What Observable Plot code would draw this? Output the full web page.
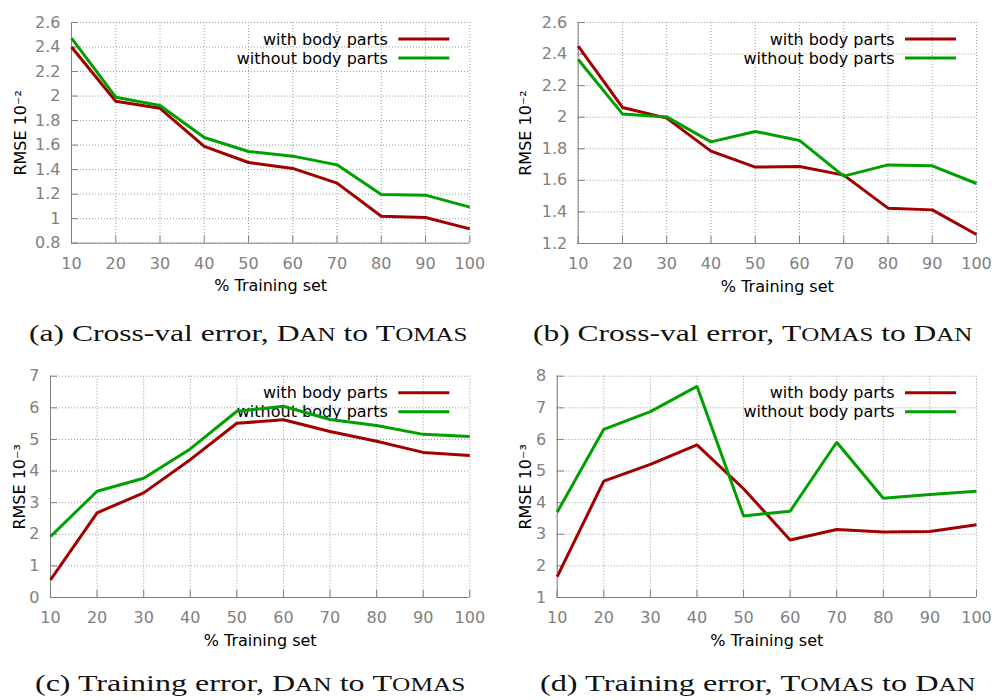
<!DOCTYPE html>
<html><head><meta charset="utf-8">
<script src="https://cdn.jsdelivr.net/npm/d3@7"></script>
<script src="https://cdn.jsdelivr.net/npm/@observablehq/plot@0.6"></script>
<style>
body{margin:0;background:#fff;}
#root{position:relative;width:996px;height:700px;overflow:hidden;background:#fff;}
#root svg{position:absolute;}
</style></head><body><div id="root"></div>
<script>
// ---- data ----
const xPercent = [10, 20, 30, 40, 50, 60, 70, 80, 90, 100];
const seriesNames = ["with body parts", "without body parts"];
const seriesColors = ["#a00000", "#00a000"];

const aWith    = [2.40, 1.958, 1.90, 1.59, 1.458, 1.41, 1.29, 1.02, 1.01, 0.917];
const aWithout = [2.472, 1.991, 1.923, 1.662, 1.548, 1.51, 1.439, 1.197, 1.192, 1.094];
const bWith    = [2.45, 2.062, 1.994, 1.785, 1.684, 1.688, 1.633, 1.424, 1.413, 1.257];
const bWithout = [2.366, 2.021, 2.002, 1.844, 1.91, 1.853, 1.627, 1.698, 1.692, 1.58];
const cWith    = [0.56, 2.68, 3.31, 4.36, 5.51, 5.62, 5.25, 4.94, 4.59, 4.49];
const cWithout = [1.93, 3.36, 3.77, 4.70, 5.89, 6.05, 5.63, 5.44, 5.16, 5.09];
const dWith    = [1.66, 4.68, 5.21, 5.83, 4.44, 2.82, 3.15, 3.07, 3.09, 3.30];
const dWithout = [3.70, 6.32, 6.88, 7.68, 3.58, 3.73, 5.91, 4.14, 4.26, 4.36];

const yTicksA = [0.8, 1, 1.2, 1.4, 1.6, 1.8, 2, 2.2, 2.4, 2.6];
const yTicksB = [1.2, 1.4, 1.6, 1.8, 2, 2.2, 2.4, 2.6];
const yTicksC = [0, 1, 2, 3, 4, 5, 6, 7];
const yTicksD = [1, 2, 3, 4, 5, 6, 7, 8];

const yLabelCross = "RMSE 10\u207B\u00B2";
const yLabelTrain = "RMSE 10\u207B\u00B3";
const xLabel = "% Training set";

// caption parts: [text, smallcaps?]
const captionA = [["(a) Cross-val error, ", false], ["Dan", true], [" to ", false], ["Tomas", true]];
const captionB = [["(b) Cross-val error, ", false], ["Tomas", true], [" to ", false], ["Dan", true]];
const captionC = [["(c) Training error, ", false], ["Dan", true], [" to ", false], ["Tomas", true]];
const captionD = [["(d) Training error, ", false], ["Tomas", true], [" to ", false], ["Dan", true]];

// ---- drawing ----
const root = document.getElementById("root");
const W = 498, H = 300;
const axisGray = "#808080";
const gridStyle = {stroke: "#9a9a9a", strokeOpacity: 1, strokeDasharray: "1,2", strokeWidth: 1};

function panel(cfg) {
  const {left, top, ml, mr, mt, mb, yTicks, withV, withoutV, ylab, ylabX} = cfg;
  const data = [];
  xPercent.forEach((x, i) => {
    data.push({x, y: withV[i], s: seriesNames[0]});
  });
  xPercent.forEach((x, i) => {
    data.push({x, y: withoutV[i], s: seriesNames[1]});
  });
  const fw = W - ml - mr, fh = H - mt - mb;
  const ymin = yTicks[0], ymax = yTicks[yTicks.length - 1];
  const plot = Plot.plot({
    width: W, height: H,
    marginLeft: ml, marginRight: mr, marginTop: mt, marginBottom: mb,
    style: {fontFamily: "'DejaVu Sans', sans-serif", fontSize: "16px", background: "transparent", overflow: "visible", color: "#000"},
    x: {domain: [10, 100]},
    y: {domain: [ymin, ymax]},
    color: {domain: seriesNames, range: seriesColors},
    marks: [
      Plot.gridX(xPercent, gridStyle),
      Plot.gridY(yTicks, gridStyle),
      Plot.tickX(xPercent, {x: d => d, stroke: axisGray, insetTop: fh - 7}),
      Plot.tickY(yTicks, {y: d => d, stroke: axisGray, insetRight: fw - 7}),
      Plot.ruleX([10], {stroke: axisGray}),
      Plot.ruleY([ymin], {stroke: axisGray}),
      Plot.axisX(xPercent, {tickSize: 0, tickPadding: 14, fill: axisGray, label: null, tickFormat: d => String(d)}),
      Plot.axisY(yTicks, {tickSize: 0, tickPadding: 11, fill: axisGray, label: null, tickFormat: d => String(d)}),
      Plot.text([ylab], {frameAnchor: "left", dx: ylabX - ml, rotate: -90, fill: "#000", textAnchor: "middle", lineAnchor: "middle"}),
      Plot.text([xLabel], {frameAnchor: "bottom", dy: 43, lineAnchor: "middle", fill: "#000"}),
      Plot.text([seriesNames[0]], {frameAnchor: "top-right", dx: -82, dy: 17, textAnchor: "end", lineAnchor: "middle", fill: "#000"}),
      Plot.text([seriesNames[1]], {frameAnchor: "top-right", dx: -82, dy: 36, textAnchor: "end", lineAnchor: "middle", fill: "#000"}),
      Plot.line(data, {x: "x", y: "y", z: "s", stroke: "s", strokeWidth: 3, strokeLinejoin: "miter", strokeLinecap: "butt"})
    ]
  });
  plot.style.left = left + "px";
  plot.style.top = top + "px";
  const svg = d3.select(plot);
  const xr = W - mr;
  [mt + 17, mt + 36].forEach((yy, i) => {
    svg.append("line")
      .attr("x1", xr - 71).attr("x2", xr - 20)
      .attr("y1", yy).attr("y2", yy)
      .attr("stroke", seriesColors[i]).attr("stroke-width", 3);
  });
  root.appendChild(plot);
}

panel({left: 0,   top: 0,   ml: 71,   mr: 28.7, mt: 22,   mb: 57.3, yTicks: yTicksA, withV: aWith, withoutV: aWithout, ylab: yLabelCross, ylabX: 20});
panel({left: 498, top: 0,   ml: 79.7, mr: 20,   mt: 22,   mb: 57,   yTicks: yTicksB, withV: bWith, withoutV: bWithout, ylab: yLabelCross, ylabX: 27.5});
panel({left: 0,   top: 355, ml: 50,   mr: 28.7, mt: 20.7, mb: 58,   yTicks: yTicksC, withV: cWith, withoutV: cWithout, ylab: yLabelTrain, ylabX: 19.5});
panel({left: 498, top: 355, ml: 58.7, mr: 20,   mt: 20.7, mb: 58,   yTicks: yTicksD, withV: dWith, withoutV: dWithout, ylab: yLabelTrain, ylabX: 27.5});

// ---- captions ----
const capSvg = d3.create("svg").attr("width", 996).attr("height", 700)
  .style("left", "0px").style("top", "0px").style("pointer-events", "none");
root.appendChild(capSvg.node());
function caption(parts, cx, baseline, targetW) {
  const t = capSvg.append("text")
    .attr("font-family", "'Liberation Serif', serif")
    .attr("font-size", 24).attr("fill", "#111").attr("x", 0).attr("y", 0);
  parts.forEach(([txt, sc]) => {
    if (!sc) { t.append("tspan").text(txt); return; }
    t.append("tspan").text(txt[0]);
    t.append("tspan").attr("font-size", 19).text(txt.slice(1).toUpperCase());
  });
  const w = t.node().getComputedTextLength();
  t.attr("transform", `translate(${cx - targetW / 2},${baseline}) scale(${targetW / w},1)`);
}
caption(captionA, 248, 341, 438);
caption(captionB, 752.5, 341, 439);
caption(captionC, 250, 691, 430);
caption(captionD, 757.5, 691, 435);
</script></body></html>
